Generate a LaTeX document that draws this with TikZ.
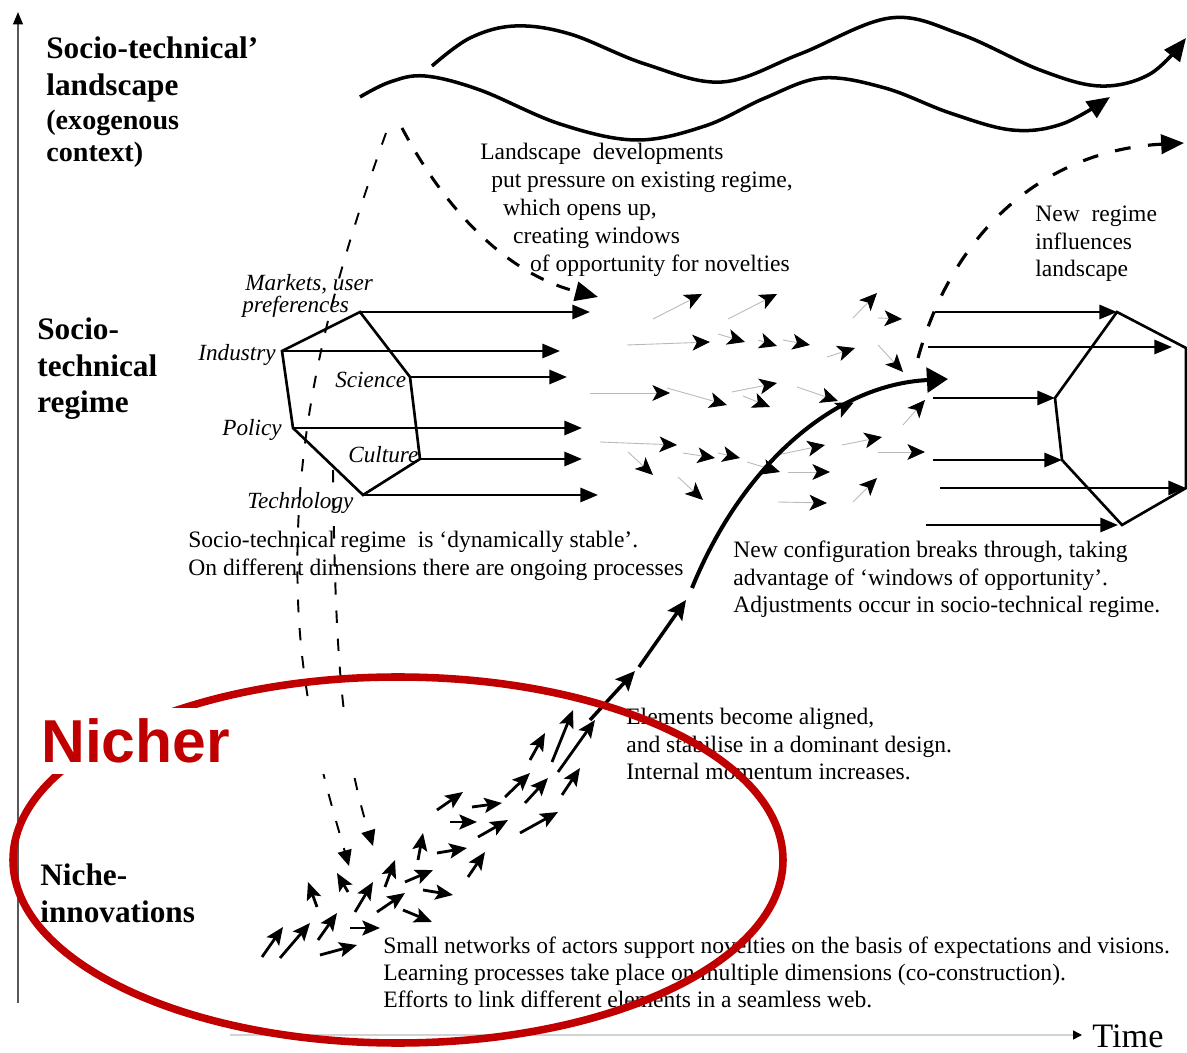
\documentclass[tikz,border=0pt]{standalone}
\usepackage{fontspec}
\setmainfont{Liberation Serif}
\newfontfamily\labelsans{Liberation Sans}
\usetikzlibrary{arrows.meta,decorations.markings}
\definecolor{nichered}{RGB}{192,0,0}
\newcommand\stacklines[1]{\begin{tabular}[t]{@{}l@{}}#1\end{tabular}}
\begin{document}
\begin{tikzpicture}[x=0.02cm,y=-0.02cm,
  body/.style={inner sep=0pt, anchor=base west, font=\fontsize{13.4}{15.5}\selectfont},
  dimlbl/.style={inner sep=0pt, anchor=base west, font=\fontsize{13.2}{15}\selectfont\itshape},
  levelbig/.style={inner sep=0pt, anchor=base west, font=\fontsize{17.8}{21}\selectfont\bfseries},
  levelsmall/.style={inner sep=0pt, anchor=base west, font=\fontsize{16}{18.5}\selectfont\bfseries},
  hexline/.style={line width=1.5pt, line join=miter},
  regarrow/.style={line width=1.5pt, -{Triangle[length=10pt,width=8pt]}},
  flow/.style={draw=gray!55, line width=0.5pt, -{Stealth[length=10pt,width=9pt,inset=2.5pt,black]}},
  nicheflow/.style={line width=1.6pt, -{Stealth[length=10pt,width=8.5pt,inset=2pt]}},
  chainflow/.style={line width=2pt, -{Stealth[length=11pt,width=10pt,inset=2pt]}},
  wave/.style={line width=2pt, -{Triangle[length=13pt,width=11pt]}},
  pressure/.style={line width=1.7pt, dash pattern=on 8pt off 8pt, -{Triangle[length=13pt,width=11pt]}},
  feedback/.style={line width=1.8pt, dash pattern=on 9pt off 10pt, -{Triangle[length=13pt,width=11pt]}},
  downflow/.style={line width=1.1pt, dash pattern=on 7pt off 9pt, -{Triangle[length=9pt,width=8pt]}},
  downline/.style={line width=1.1pt, dash pattern=on 7pt off 9pt},
]
\useasboundingbox (0,0) rectangle (1187,1053);

% ---------- axes ----------
\coordinate (origin) at (18,1003);
\coordinate (ytop) at (18,12);
\draw[gray!70!black, line width=1pt, -{Triangle[length=7pt,width=5.5pt,black]}] (origin) -- (ytop);
\coordinate (xstart) at (230,1035);
\coordinate (xend) at (1082,1035);
\draw[gray!35, line width=0.8pt, -{Triangle[length=5pt,width=5pt,black]}] (xstart) -- (xend);
\node[inner sep=0pt, anchor=base west, font=\fontsize{19.5}{22}\selectfont] (time) at (1092,1047) {Time};

% ---------- level labels ----------
\node[levelbig] (land1) at (46,59) {Socio-technical’};
\node[levelbig] (land2) at (46,96) {landscape};
\node[levelsmall] (land3) at (46,130) {(exogenous};
\node[levelsmall] (land4) at (46,162) {context)};
\node[levelbig] (reg1) at (37,340) {Socio-};
\node[levelbig] (reg2) at (37,377) {technical};
\node[levelbig] (reg3) at (37,413) {regime};
\node[levelbig] (nic1) at (40,886) {Niche-};
\node[levelbig] (nic2) at (40,922) {innovations};

% ---------- landscape developments ----------
\coordinate (w1s) at (432,66);
\coordinate (w1e) at (1186,38);
\draw[wave] plot[smooth, tension=0.6] coordinates {(w1s) (470,38) (515,26) (570,34) (645,64) (722,82) (800,54) (890,18) (960,34) (1040,70) (1100,86) (1150,74) (w1e)};
\coordinate (w2s) at (360,97);
\coordinate (w2e) at (1110,97);
\draw[wave] plot[smooth, tension=0.6] coordinates {(w2s) (390,82) (425,76) (480,90) (560,124) (636,140) (705,126) (765,98) (822,78) (885,88) (950,113) (1012,130) (1062,124) (w2e)};

% landscape pressure on the regime and the niches
\coordinate (peakR) at (402,128);
\coordinate (window) at (598,297);
\draw[pressure] (peakR) .. controls (440,200) and (500,272) .. (window);
\coordinate (peakL) at (386,133);
\coordinate (nicheL) at (349,866);
\draw[downline] (peakL) .. controls (330,290) and (292,430) .. (298,600);
\draw[downflow] (298,600) .. controls (302,710) and (330,800) .. (nicheL);
\coordinate (regOut) at (333,470);
\coordinate (nicheR) at (373,846);
\draw[downflow] (regOut) .. controls (335,640) and (340,740) .. (nicheR);

\node[body] (landtxt) at (480,160) {\fontsize{13.4}{15.9}\selectfont\stacklines{Landscape\ \ developments\\
\hspace*{6.2pt}put pressure on existing regime,\\
\hspace*{13pt}which opens up,\\
\hspace*{18.7pt}creating windows\\
\hspace*{28.3pt}of opportunity for novelties}};

% ---------- existing regime ----------
\coordinate (mk) at (360,312);
\coordinate (ind) at (282,351);
\coordinate (sci) at (410,377);
\coordinate (pol) at (293,428);
\coordinate (cul) at (420,459);
\coordinate (tec) at (363,495);
\draw[hexline] (mk) -- (ind) -- (pol) -- (tec) -- (cul) -- (sci) -- cycle;
\coordinate (mkE) at (590,312);
\coordinate (indE) at (560,351);
\coordinate (sciE) at (567,377);
\coordinate (polE) at (582,428);
\coordinate (culE) at (582,459);
\coordinate (tecE) at (598,495);
\draw[regarrow] (mk) -- (mkE);
\draw[regarrow] (ind) -- (indE);
\draw[regarrow] (sci) -- (sciE);
\draw[regarrow] (pol) -- (polE);
\draw[regarrow] (cul) -- (culE);
\draw[regarrow] (tec) -- (tecE);

\node[dimlbl] (lmk1) at (245,291) {Markets, user};
\node[dimlbl] (lmk2) at (242,313) {preferences};
\node[dimlbl] (lind) at (198,361) {Industry};
\node[dimlbl] (lsci) at (335,388) {Science};
\node[dimlbl] (lpol) at (222,436) {Policy};
\node[dimlbl] (lcul) at (348,463) {Culture};
\node[dimlbl] (ltec) at (247,509) {Technology};

\node[body] (regtxt) at (188,548) {\stacklines{Socio-technical regime\ \ is ‘dynamically stable’.\\
On different dimensions there are ongoing processes}};

% ---------- unsettled regime: scattered developments ----------
\foreach \sx/\sy/\ex/\ey in {653/319/702/294, 728/319/777/294, 853/318/877/293, 878/318/902/319,
  627/345/710/342, 718/334/745/342, 758/340/777/346, 783/340/810/345, 827/357/855/348, 878/345/903/372,
  590/393/670/393, 667/388/727/405, 732/392/777/383, 743/396/770/407, 797/387/838/401, 903/425/925/400,
  600/442/677/445, 628/452/653/475, 683/453/715/458, 718/453/740/458, 678/477/703/500, 747/462/780/472,
  777/455/825/445, 788/472/830/472, 842/445/882/437, 878/452/925/452, 778/502/827/503, 853/502/877/478}
  \draw[flow] (\sx,\sy) -- (\ex,\ey);

% ---------- new regime ----------
\coordinate (rt) at (1117,312);
\coordinate (rr1) at (1186,348);
\coordinate (rr2) at (1186,488);
\coordinate (rb) at (1122,525);
\coordinate (rlb) at (1062,460);
\coordinate (rlt) at (1055,398);
\draw[hexline] (rt) -- (rr1) -- (rr2) -- (rb) -- (rlb) -- (rlt) -- cycle;
\coordinate (n1) at (935,312);
\coordinate (n2) at (928,347);
\coordinate (n2E) at (1172,347);
\coordinate (n3) at (933,398);
\coordinate (n4) at (933,460);
\coordinate (n5) at (940,488);
\coordinate (n6) at (926,525);
\coordinate (n6E) at (1118,525);
\draw[regarrow] (n1) -- (rt);
\draw[regarrow] (n2) -- (n2E);
\draw[regarrow] (n3) -- (rlt);
\draw[regarrow] (n4) -- (rlb);
\draw[regarrow] (n5) -- (rr2);
\draw[regarrow] (n6) -- (n6E);

% new regime feeds back on the landscape
\coordinate (fbS) at (918,358);
\coordinate (fbE) at (1184,143);
\draw[feedback] (fbS) .. controls (955,225) and (1050,150) .. (fbE);

\node[body] (fbtxt) at (1035,222) {\stacklines{New\ \ regime\\ influences\\ landscape}};

\node[body] (breaktxt) at (733,558) {\stacklines{New configuration breaks through, taking\\
advantage of ‘windows of opportunity’.\\
Adjustments occur in socio-technical regime.}};

% ---------- niche trajectory ----------
\coordinate (ch0) at (590,720);
\coordinate (ch1) at (635,671);
\coordinate (ch2) at (639,667);
\coordinate (ch3) at (686,600);
\coordinate (cv0) at (692,588);
\coordinate (cv1) at (948,379);
\draw[chainflow] (ch0) -- (ch1);
\draw[chainflow] (ch2) -- (ch3);
\draw[line width=2.3pt, -{Triangle[length=12pt,width=14pt]},
  postaction={decorate, decoration={markings, mark=at position 0.72 with {\arrow{Stealth[length=10pt,width=9pt,inset=2pt]}}}}]
  (cv0) .. controls (740,470) and (830,385) .. (cv1);

\foreach \sx/\sy/\ex/\ey in {262/957/283/927, 280/958/310/923, 318/940/337/913, 320/955/357/945,
  350/928/380/928, 317/907/308/882, 348/892/337/873, 355/912/373/882, 377/912/405/893, 385/887/395/860,
  403/910/432/922, 405/882/433/870, 423/890/453/895, 418/860/423/833, 437/853/467/848, 468/877/485/852,
  450/822/477/822, 437/810/463/792, 472/807/502/803, 478/837/508/820, 520/833/558/812, 505/797/530/773,
  525/803/548/778, 562/795/580/768, 530/760/545/733, 552/762/573/710, 558/772/595/720}
  \draw[nicheflow] (\sx,\sy) -- (\ex,\ey);

\node[body] (aligntxt) at (626,725) {\stacklines{Elements become aligned,\\
and stabilise in a dominant design.\\
Internal momentum increases.}};

\node[body] (nichetxt) at (383,953) {\stacklines{Small networks of actors support novelties on the basis of expectations and visions.\\
Learning processes take place on multiple dimensions (co-construction).\\
Efforts to link different elements in a seamless web.}};

% ---------- highlighted niche level ----------
\coordinate (nichecentre) at (398,860);
\draw[nichered, line width=4.3pt] (nichecentre) ellipse [x radius=385, y radius=183];
\fill[white] (29,708) rectangle (425,774);
\node[inner sep=0pt, anchor=base west, text=nichered, font=\labelsans\fontsize{34.5}{38}\selectfont\bfseries] (nicher) at (41,763) {Nicher};

\end{tikzpicture}
\end{document}
